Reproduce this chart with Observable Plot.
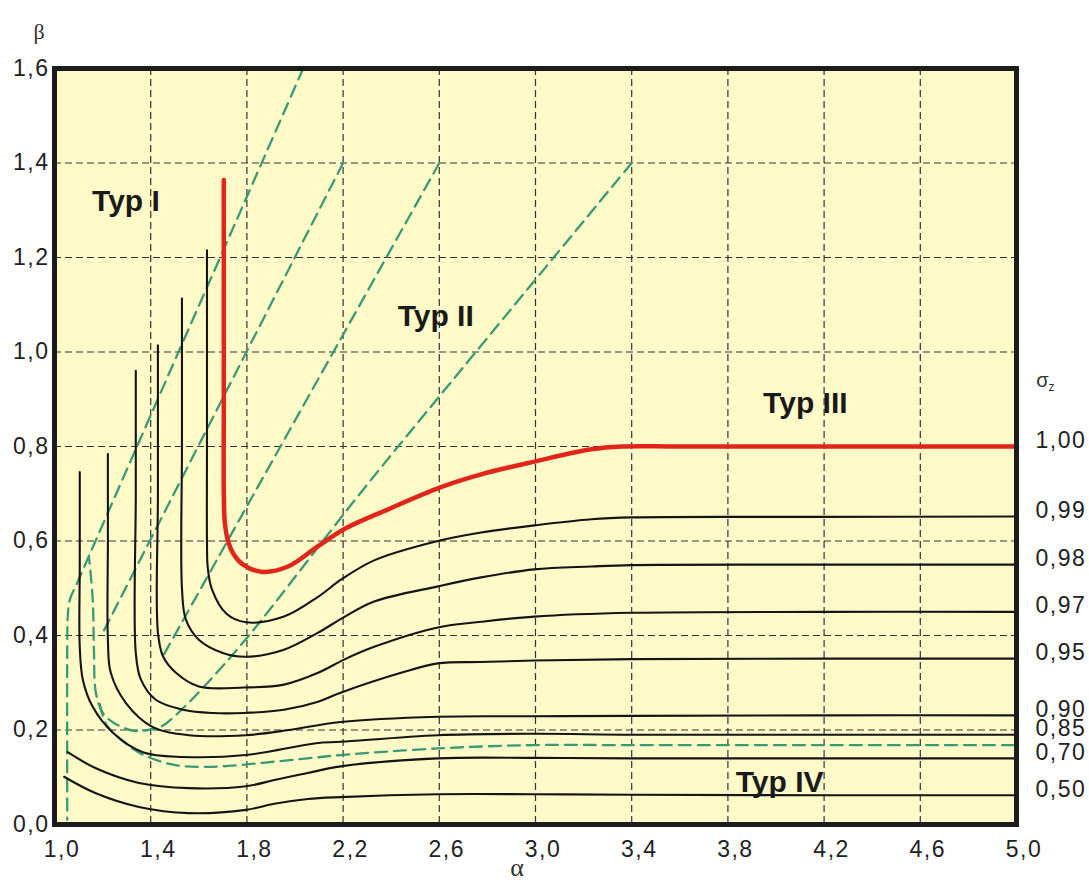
<!DOCTYPE html>
<html>
<head>
<meta charset="utf-8">
<script src="https://cdn.jsdelivr.net/npm/d3@7"></script>
<script src="https://cdn.jsdelivr.net/npm/@observablehq/plot@0.6"></script>
<style>
  body { margin: 0; background: #fff; }
  #chart svg g[font-size="23"] text { letter-spacing: 1.5px; }
</style>
</head>
<body>
<div id="chart"></div>
<script>
// ---- tick values ----
const xTicks = [1.0, 1.4, 1.8, 2.2, 2.6, 3.0, 3.4, 3.8, 4.2, 4.6, 5.0];
const yTicks = [0.0, 0.2, 0.4, 0.6, 0.8, 1.0, 1.2, 1.4, 1.6];

// ---- sigma_z labels (right side), one per solid curve, top to bottom ----
const sigmaLabels = ["1,00", "0,99", "0,98", "0,97", "0,95", "0,90", "0,85", "0,70", "0,50"];

// ---- solid curves [alpha, beta] ----
const curve100 = [[1.704,1.364],[1.704,0.90],[1.704,0.70],[1.708,0.64],[1.72,0.603],[1.745,0.572],[1.784,0.55],[1.858,0.535],[1.971,0.546],[2.096,0.589],[2.204,0.625],[2.387,0.667],[2.607,0.714],[2.774,0.741],[2.995,0.768],[3.232,0.794],[3.357,0.80],[3.6,0.80],[4.2,0.80],[5.0,0.80]];
const curve099 = [[1.634,1.215],[1.634,0.80],[1.634,0.60],[1.637,0.545],[1.655,0.497],[1.715,0.446],[1.796,0.428],[1.954,0.44],[2.096,0.482],[2.191,0.518],[2.329,0.559],[2.594,0.60],[2.774,0.618],[2.995,0.633],[3.232,0.646],[3.40,0.650],[4.2,0.651],[5.0,0.652]];
const curve098 = [[1.53,1.113],[1.53,0.80],[1.53,0.50],[1.546,0.434],[1.60,0.391],[1.70,0.363],[1.796,0.355],[1.954,0.37],[2.096,0.406],[2.204,0.439],[2.329,0.472],[2.594,0.504],[2.774,0.523],[2.995,0.54],[3.232,0.546],[3.40,0.549],[4.2,0.55],[5.0,0.55]];
const curve097 = [[1.43,1.014],[1.43,0.70],[1.43,0.406],[1.451,0.356],[1.505,0.321],[1.60,0.292],[1.787,0.29],[1.954,0.296],[2.096,0.321],[2.204,0.349],[2.329,0.376],[2.594,0.417],[2.774,0.429],[2.995,0.44],[3.40,0.448],[4.2,0.45],[5.0,0.45]];
const curve095 = [[1.338,0.96],[1.338,0.70],[1.338,0.363],[1.359,0.307],[1.421,0.264],[1.534,0.243],[1.658,0.236],[1.787,0.236],[1.954,0.243],[2.096,0.26],[2.19,0.279],[2.441,0.321],[2.594,0.341],[2.774,0.344],[2.995,0.347],[3.40,0.35],[4.2,0.351],[5.0,0.351]];
const curve090 = [[1.222,0.784],[1.222,0.60],[1.222,0.391],[1.234,0.321],[1.297,0.257],[1.409,0.206],[1.559,0.189],[1.796,0.189],[1.975,0.2],[2.19,0.217],[2.594,0.228],[2.995,0.229],[3.40,0.23],[4.2,0.231],[5.0,0.231]];
const curve085 = [[1.105,0.746],[1.105,0.55],[1.105,0.376],[1.118,0.306],[1.159,0.249],[1.243,0.194],[1.367,0.153],[1.534,0.143],[1.796,0.147],[2.087,0.172],[2.19,0.175],[2.594,0.189],[2.995,0.192],[3.40,0.19],[4.2,0.19],[5.0,0.19]];
const curve070 = [[1.055,0.153],[1.172,0.119],[1.351,0.088],[1.559,0.077],[1.796,0.081],[1.914,0.094],[2.053,0.109],[2.19,0.123],[2.594,0.14],[2.995,0.141],[3.40,0.14],[4.2,0.14],[5.0,0.14]];
const curve050 = [[1.04,0.101],[1.172,0.066],[1.351,0.037],[1.559,0.024],[1.796,0.031],[1.914,0.044],[2.053,0.054],[2.19,0.058],[2.594,0.064],[2.995,0.064],[3.40,0.063],[4.2,0.062],[5.0,0.062]];

// ---- green dashed boundaries [alpha, beta] ----
const greenA = [[2.034,1.60],[1.858,1.396],[1.412,0.88],[1.143,0.568],[1.095,0.512],[1.064,0.476],[1.055,0.44],[1.053,0.38],[1.053,0.01]];
const greenB = [[2.2,1.4],[1.2,0.405]];
const greenC = [[2.6,1.4],[1.455,0.36]];
const greenD = [[3.4,1.4],[2.65,0.937],[2.262,0.695],[1.805,0.398],[1.622,0.292],[1.497,0.228],[1.442,0.207],[1.388,0.20],[1.33,0.198],[1.247,0.215],[1.201,0.236],[1.172,0.279],[1.164,0.37],[1.159,0.476],[1.143,0.568]];
const greenE = [[1.188,0.255],[1.215,0.212],[1.262,0.186],[1.359,0.15],[1.498,0.126],[1.637,0.122],[1.775,0.126],[1.914,0.133],[2.053,0.14],[2.19,0.147],[2.594,0.161],[2.996,0.168],[3.4,0.168],[4.2,0.168],[5.0,0.168]];

// ---- region labels ----
const typLabels = [
  {text: "Typ I",   a: 1.297, b: 1.318},
  {text: "Typ II",  a: 2.585, b: 1.076},
  {text: "Typ III", a: 4.122, b: 0.891},
  {text: "Typ IV",  a: 4.015, b: 0.089}
];
const sigmaTitle = {a: 5.0, b: 0.940};

// ---- build tables ----
const toRows = (arr, id) => arr.map(([a, b]) => ({a, b, id}));
const blackCurves = [curve099, curve098, curve097, curve095, curve090, curve085, curve070, curve050];
const allSolid = [curve100, ...blackCurves];
const blackRows = blackCurves.flatMap((c, i) => toRows(c, "k" + i));
const redRows = toRows(curve100, "red");
const greenRows = [greenA, greenB, greenC, greenD, greenE].flatMap((c, i) => toRows(c, "g" + i));
const labelRows = allSolid.map((c, i) => ({a: c[c.length - 1][0], b: c[c.length - 1][1], label: sigmaLabels[i]}));
const fmt = d => d.toFixed(1).replace(".", ",");

const chart = Plot.plot({
  width: 1089,
  height: 888,
  marginLeft: 54,
  marginRight: 73,
  marginTop: 68,
  marginBottom: 64,
  x: {domain: [1, 5], axis: null},
  y: {domain: [0, 1.6], axis: null},
  style: {fontFamily: "'Liberation Sans', Arial, sans-serif", background: "#ffffff", color: "#222"},
  marks: [
    Plot.frame({fill: "#FFFAC8", stroke: "none"}),
    Plot.ruleX(xTicks.slice(1, -1), {stroke: "#333", strokeWidth: 1.2, strokeDasharray: "7,4"}),
    Plot.ruleY(yTicks.slice(1, -1), {stroke: "#333", strokeWidth: 1.2, strokeDasharray: "7,4"}),
    Plot.line(greenRows, {x: "a", y: "b", z: "id", curve: "catmull-rom", stroke: "#3a9a74", strokeWidth: 2.3, strokeDasharray: "12,7"}),
    Plot.line(blackRows, {x: "a", y: "b", z: "id", curve: "catmull-rom", stroke: "#151515", strokeWidth: 2.1}),
    Plot.line(redRows, {x: "a", y: "b", z: "id", curve: "catmull-rom", stroke: "#e1251b", strokeWidth: 4.5}),
    Plot.frame({stroke: "#1c1c1c", strokeWidth: 5}),
    Plot.text(xTicks, {x: d => d, frameAnchor: "bottom", lineAnchor: "top", dy: 16, dx: 7.5, text: fmt, fontSize: 23, fill: "#222"}),
    Plot.text(yTicks, {y: d => d, frameAnchor: "left", textAnchor: "end", dx: -5, text: fmt, fontSize: 23, fill: "#222"}),
    Plot.text(labelRows, {x: "a", y: "b", text: "label", textAnchor: "start", dx: 19, dy: -6, fontSize: 23, fill: "#222"}),
    Plot.text(typLabels, {x: "a", y: "b", text: "text", fontSize: 30, fontWeight: "bold", fill: "#1a1a1a"}),
    Plot.text([sigmaTitle], {x: "a", y: "b", text: () => "σ", dx: 26, fontSize: 20, fill: "#333"}),
    Plot.text([sigmaTitle], {x: "a", y: "b", text: () => "z", dx: 35, dy: 7, fontSize: 12, fill: "#333"}),
    Plot.text(["β"], {frameAnchor: "top-left", dx: -21, dy: -45.5, fontSize: 22, fontFamily: "'Liberation Serif', 'Times New Roman', serif", fill: "#333"}),
    Plot.text(["α"], {frameAnchor: "bottom", dx: -18.5, dy: 51, fontSize: 26, fontFamily: "'Liberation Serif', 'Times New Roman', serif", fill: "#333"})
  ]
});
document.getElementById("chart").appendChild(chart);
</script>
</body>
</html>
